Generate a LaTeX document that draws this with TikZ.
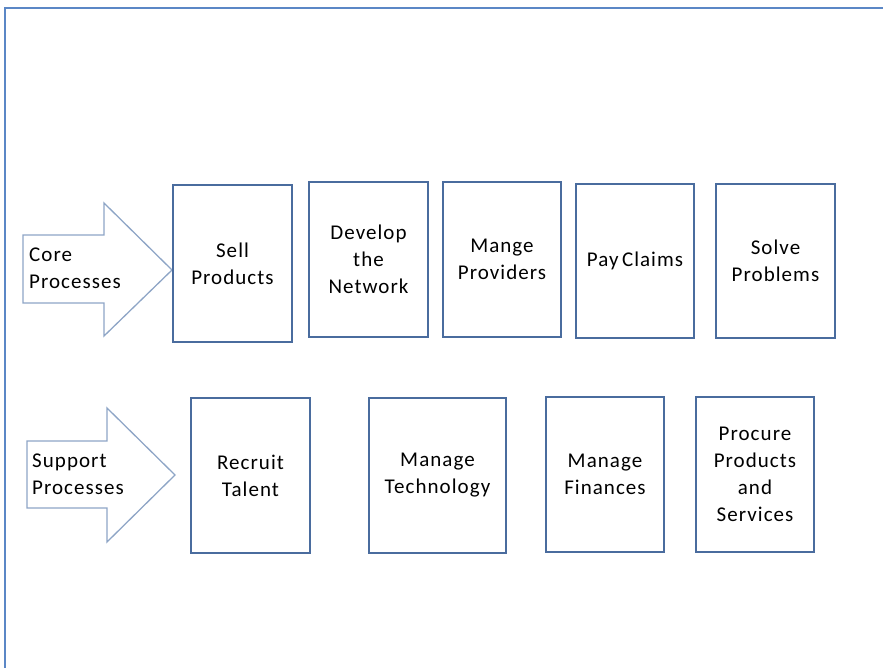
\documentclass[tikz,border=0pt]{standalone}
\usepackage{fontspec}
\setmainfont{Carlito}
\usepackage{xcolor}
\definecolor{frameblue}{HTML}{5B87C6}
\definecolor{boxblue}{HTML}{4A6C9E}
\definecolor{arrowblue}{HTML}{8EA5C6}
\tikzset{
    procbox/.style={draw=boxblue, line width=1.3pt, align=center, inner sep=0pt,
        minimum width=118pt, minimum height=155pt},
    arrowtext/.style={anchor=west, align=left, inner sep=0pt}
}

\begin{document}
\begin{tikzpicture}[x=1pt,y=-1pt,
        font=\fontsize{21}{27}\selectfont\addfontfeatures{LetterSpace=5}]
            \useasboundingbox (0,0) rectangle (883,668);
            \draw[frameblue, line width=1.5pt] (5,668) -- (5,8) -- (883,8);
            % arrows
            \draw[arrowblue, line width=1.3pt, line join=miter]
                (23,235) -- (104,235) -- (104,203) -- (172,270) -- (104,336) -- (104,303) -- (23,303) -- cycle;
            \draw[arrowblue, line width=1.3pt, line join=miter]
                (27,441) -- (107,441) -- (107,408) -- (175,475) -- (107,542) -- (107,508) -- (27,508) -- cycle;
            \node[arrowtext] (core) at (29,268) {Core\\Processes};
            \node[arrowtext] (support) at (32,474) {Support\\Processes};
            % core row
            \node[procbox, minimum height=157pt, minimum width=119pt] (sell) at (232.5,263.5) {Sell\\Products};
            \node[procbox, minimum width=119pt] (network) at (368.5,259.5) {Develop\\the\\Network};
            \node[procbox] (providers) at (502,259.5) {Mange\\Providers};
            \node[procbox, minimum height=154pt] (claims) at (635,261) {Pay\,Claims};
            \node[procbox, minimum height=154pt, minimum width=119pt] (problems) at (775.5,261) {Solve\\Problems};
            % support row
            \node[procbox, minimum width=119pt] (talent) at (250.5,475.5) {Recruit\\Talent};
            \node[procbox, minimum width=137pt] (technology) at (437.5,475.5) {Manage\\Technology};
            \node[procbox] (finances) at (605,474.5) {Manage\\Finances};
            \node[procbox] (procure) at (755,474.5) {Procure\\Products\\and\\Services};
        \end{tikzpicture}
\end{document}
